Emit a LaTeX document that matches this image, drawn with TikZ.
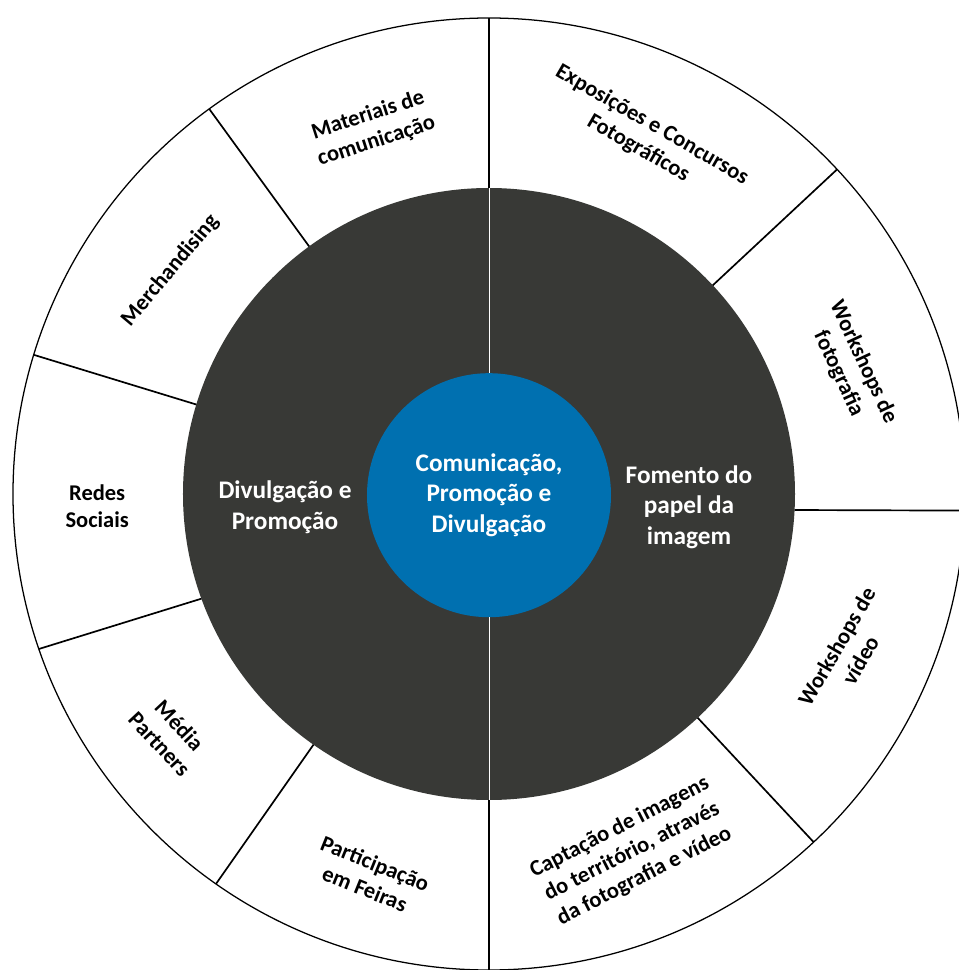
\documentclass[tikz,border=0pt]{standalone}
\usepackage{fontspec}
\setmainfont{Carlito}
\definecolor{ringgray}{RGB}{56,57,54}
\definecolor{hubblue}{RGB}{0,112,176}
\begin{document}
\begin{tikzpicture}[line width=1.2pt, outer sep=0pt, inner sep=0pt,
  disc/.style={circle,minimum size=#1},
  item/.style={align=center,font=\fontsize{16}{19.4}\selectfont\bfseries},
  topic/.style={align=center,text=white,font=\fontsize{18}{21.7}\selectfont\bfseries}]
\useasboundingbox (-12.225,-11.9) rectangle (11.725,12.35);
\node [disc=23.8cm,draw,fill=white,line width=0.9pt](outer) at (0,0) {};
\node [disc=15.3cm,fill=ringgray](ring) at (0,0) {};
\node [disc=6.1cm,fill=hubblue,topic](hub) at (0,-0.03) {Comunicação,\\Promoção e\\Divulgação};
\path
    (outer.90) edge (ring.90)
    (ring.126.5) edge (outer.126.3)
    (ring.163.3) edge (outer.163.05)
    (ring.200.3) edge (outer.199.35)
    (ring.235.6) edge (outer.235.2)
    (ring.270) edge (outer.270)
    (ring.313.3) edge (outer.313.8)
    (ring.357.4) edge (outer.358.3)
    (ring.43.3) edge (outer.43.8)
         ;
\path
    (ring.90) edge [white,line width=0.7pt] (hub.90)
    (hub.270) edge [white,line width=0.7pt] (ring.270)
         ;
\node [topic](divul) at (-5.1,-0.33) {Divulgação e\\Promoção};
\node [topic](foment) at (5.0,-0.33) {Fomento do\\papel da\\imagem};
\begin{scope}[every node/.style={item}]
\node [rotate=18](mat) at (107.7:9.6) {Materiais de\\comunicação};
\node [rotate=50](merch) at (145:9.73) {Merchandising};
\node (redes) at (181.75:9.8) {Redes\\Sociais};
\node [rotate=-47](media) at (217:10) {Média\\Partners};
\node [rotate=-22](feiras) at (252.7:10) {Participação\\em Feiras};
\node [rotate=27](capt) at (-68.2:9.63) {Captação de imagens\\do território, através\\da fotografia e vídeo};
\node [rotate=60](wsvid) at (-23.9:9.83) {Workshops de\\vídeo};
\node [rotate=-65](wsfoto) at (19.2:9.58) {Workshops de\\fotografia};
\node [rotate=-30](expo) at (66.4:9.75) {Exposições e Concursos\\Fotográficos};
\end{scope}
\end{tikzpicture}
\end{document}
